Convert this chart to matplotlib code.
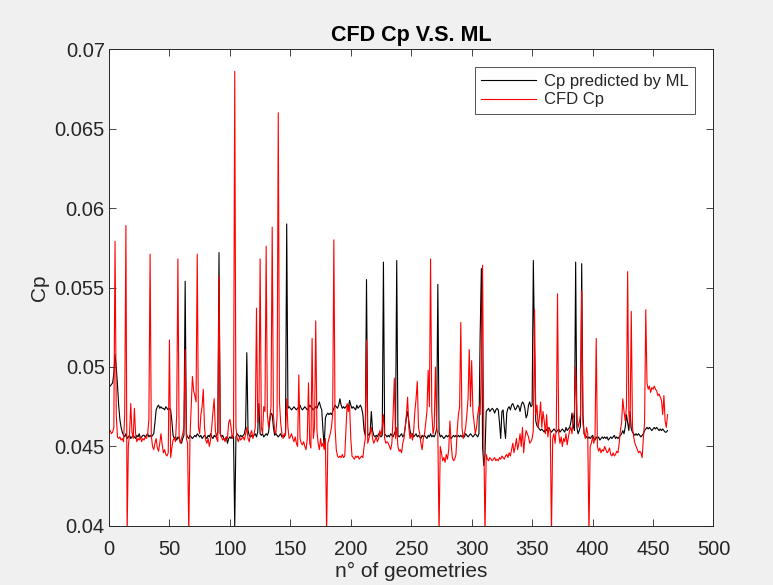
import matplotlib
matplotlib.use("Agg")
import matplotlib.pyplot as plt
from matplotlib.ticker import FuncFormatter
import numpy as np

plt.rcParams['font.family'] = ['Liberation Sans', 'DejaVu Sans']

# Cp predicted by the ML model, geometry 1..462
cp_ml = [
    .0488, .0489, .0490, .0496, .0508, .0500, .0489, .0476, .0467, .0462,
    .0459, .0457, .0456, .0458, .0455, .0456, .0457, .0455, .0456, .0457,
    .0456, .0455, .0457, .0456, .0458, .0455, .0456, .0457, .0457, .0456,
    .0457, .0458, .0456, .0457, .0456, .0457, .0458, .0465, .0473, .0475,
    .0476, .0474, .0475, .0474, .0474, .0473, .0475, .0474, .0473, .0474,
    .0473, .0466, .0457, .0455, .0456, .0454, .0456, .0455, .0453, .0452,
    .0455, .0457, .0554, .0458, .0456, .0455, .0457, .0456, .0455, .0456,
    .0457, .0456, .0458, .0457, .0456, .0457, .0455, .0456, .0457, .0456,
    .0455, .0457, .0456, .0458, .0456, .0455, .0457, .0456, .0457, .0459,
    .0572, .0458, .0456, .0457, .0455, .0454, .0456, .0452, .0455, .0456,
    .0455, .0457, .0456, .0400, .0456, .0458, .0457, .0456, .0457, .0456,
    .0457, .0458, .0462, .0509, .0460, .0457, .0456, .0457, .0456, .0457,
    .0458, .0456, .0459, .0477, .0458, .0457, .0458, .0456, .0457, .0458,
    .0457, .0459, .0466, .0471, .0470, .0462, .0457, .0458, .0457, .0456,
    .0457, .0458, .0456, .0457, .0456, .0458, .0590, .0474, .0475, .0474,
    .0473, .0474, .0475, .0474, .0473, .0474, .0475, .0476, .0474, .0473,
    .0474, .0475, .0474, .0473, .0474, .0476, .0475, .0474, .0473, .0474,
    .0475, .0474, .0476, .0478, .0475, .0473, .0460, .0450, .0468, .0470,
    .0471, .0470, .0471, .0470, .0472, .0474, .0476, .0475, .0474, .0476,
    .0480, .0476, .0474, .0475, .0474, .0475, .0476, .0474, .0479, .0476,
    .0474, .0475, .0474, .0473, .0476, .0474, .0475, .0476, .0474, .0470,
    .0460, .0457, .0555, .0458, .0457, .0459, .0472, .0460, .0457, .0456,
    .0457, .0456, .0458, .0457, .0456, .0457, .0566, .0458, .0457, .0456,
    .0457, .0456, .0458, .0457, .0456, .0458, .0460, .0567, .0457, .0456,
    .0457, .0458, .0456, .0457, .0462, .0468, .0472, .0466, .0460, .0457,
    .0458, .0456, .0457, .0458, .0456, .0457, .0456, .0455, .0457, .0456,
    .0457, .0456, .0455, .0457, .0456, .0458, .0456, .0457, .0456, .0458,
    .0461, .0552, .0459, .0456, .0457, .0456, .0455, .0456, .0457, .0456,
    .0457, .0456, .0455, .0456, .0457, .0456, .0457, .0456, .0457, .0456,
    .0457, .0456, .0457, .0456, .0458, .0457, .0456, .0457, .0458, .0457,
    .0456, .0457, .0458, .0457, .0456, .0458, .0520, .0562, .0450, .0438,
    .0445, .0472, .0473, .0474, .0472, .0473, .0474, .0473, .0471, .0473,
    .0474, .0473, .0465, .0455, .0472, .0473, .0462, .0455, .0471, .0474,
    .0475, .0473, .0476, .0477, .0475, .0473, .0474, .0476, .0475, .0472,
    .0476, .0478, .0477, .0474, .0468, .0470, .0476, .0478, .0475, .0476,
    .0567, .0510, .0466, .0463, .0462, .0461, .0460, .0461, .0460, .0459,
    .0461, .0460, .0462, .0461, .0460, .0459, .0460, .0461, .0460, .0459,
    .0460, .0461, .0459, .0460, .0461, .0460, .0459, .0462, .0460, .0461,
    .0462, .0465, .0471, .0463, .0460, .0566, .0462, .0458, .0460, .0463,
    .0565, .0470, .0458, .0457, .0456, .0455, .0456, .0455, .0456, .0457,
    .0455, .0454, .0456, .0455, .0456, .0454, .0455, .0456, .0455, .0456,
    .0455, .0456, .0454, .0455, .0456, .0455, .0456, .0457, .0455, .0456,
    .0455, .0456, .0457, .0458, .0460, .0458, .0462, .0470, .0465, .0460,
    .0472, .0461, .0459, .0458, .0457, .0458, .0457, .0458, .0457, .0456,
    .0457, .0458, .0460, .0461, .0462, .0461, .0462, .0461, .0460, .0461,
    .0462, .0461, .0462, .0461, .0460, .0461, .0460, .0461, .0460, .0459,
    .0459, .0460,
]

# Cp from CFD, geometry 1..462
cp_cfd = [
    .0460, .0458, .0459, .0462, .0579, .0470, .0456, .0455, .0456, .0454,
    .0455, .0453, .0470, .0589, .0395, .0450, .0458, .0477, .0459, .0455,
    .0474, .0458, .0453, .0455, .0454, .0456, .0453, .0455, .0454, .0456,
    .0455, .0458, .0467, .0571, .0457, .0450, .0448, .0452, .0455, .0449,
    .0447, .0452, .0458, .0451, .0446, .0448, .0445, .0444, .0446, .0517,
    .0443, .0449, .0454, .0455, .0453, .0470, .0568, .0456, .0452, .0455,
    .0458, .0462, .0511, .0455, .0452, .0395, .0456, .0475, .0494, .0485,
    .0482, .0478, .0571, .0462, .0458, .0470, .0475, .0486, .0462, .0454,
    .0452, .0455, .0450, .0454, .0462, .0472, .0480, .0460, .0455, .0453,
    .0557, .0458, .0456, .0454, .0455, .0453, .0456, .0455, .0465, .0467,
    .0462, .0455, .0458, .0686, .0462, .0455, .0453, .0456, .0454, .0455,
    .0456, .0454, .0458, .0462, .0455, .0453, .0458, .0460, .0455, .0458,
    .0462, .0537, .0465, .0470, .0568, .0462, .0458, .0475, .0472, .0576,
    .0470, .0462, .0468, .0475, .0588, .0470, .0460, .0458, .0468, .0660,
    .0478, .0465, .0458, .0455, .0458, .0457, .0480, .0462, .0455, .0456,
    .0458, .0455, .0453, .0456, .0452, .0450, .0495, .0455, .0452, .0451,
    .0453, .0450, .0448, .0455, .0490, .0452, .0449, .0518, .0455, .0462,
    .0529, .0460, .0452, .0448, .0455, .0450, .0452, .0448, .0455, .0395,
    .0452, .0455, .0458, .0462, .0470, .0580, .0462, .0448, .0444, .0443,
    .0444, .0443, .0445, .0443, .0444, .0460, .0477, .0472, .0476, .0455,
    .0444, .0443, .0442, .0444, .0443, .0444, .0442, .0443, .0444, .0443,
    .0450, .0455, .0517, .0452, .0455, .0458, .0462, .0455, .0452, .0454,
    .0456, .0453, .0455, .0460, .0457, .0462, .0470, .0455, .0452, .0453,
    .0452, .0450, .0448, .0452, .0470, .0493, .0455, .0462, .0450, .0447,
    .0448, .0446, .0452, .0455, .0462, .0470, .0481, .0462, .0455, .0458,
    .0454, .0460, .0472, .0480, .0491, .0462, .0458, .0452, .0448, .0455,
    .0458, .0465, .0472, .0498, .0475, .0568, .0472, .0458, .0462, .0500,
    .0462, .0458, .0395, .0450, .0446, .0441, .0443, .0440, .0445, .0442,
    .0448, .0466, .0452, .0443, .0441, .0442, .0445, .0460, .0470, .0475,
    .0528, .0462, .0455, .0458, .0462, .0470, .0480, .0511, .0475, .0504,
    .0472, .0465, .0458, .0462, .0470, .0475, .0470, .0500, .0564, .0458,
    .0395, .0445, .0442, .0441, .0443, .0442, .0441, .0442, .0443, .0441,
    .0442, .0441, .0443, .0442, .0444, .0443, .0442, .0444, .0445, .0443,
    .0446, .0444, .0448, .0452, .0446, .0450, .0455, .0448, .0452, .0458,
    .0450, .0462, .0446, .0455, .0460, .0458, .0456, .0452, .0453, .0455,
    .0460, .0536, .0470, .0476, .0462, .0468, .0478, .0462, .0472, .0466,
    .0458, .0470, .0456, .0462, .0460, .0395, .0455, .0458, .0452, .0462,
    .0546, .0458, .0452, .0456, .0450, .0455, .0453, .0458, .0451, .0456,
    .0460, .0462, .0458, .0468, .0472, .0500, .0470, .0462, .0465, .0470,
    .0548, .0465, .0458, .0455, .0462, .0458, .0395, .0450, .0452, .0456,
    .0452, .0455, .0518, .0450, .0447, .0449, .0446, .0448, .0447, .0450,
    .0448, .0446, .0447, .0449, .0445, .0444, .0446, .0444, .0445, .0447,
    .0446, .0452, .0460, .0465, .0480, .0472, .0466, .0475, .0560, .0470,
    .0462, .0535, .0462, .0456, .0452, .0450, .0448, .0446, .0447, .0446,
    .0443, .0455, .0465, .0536, .0490, .0486, .0488, .0484, .0487, .0486,
    .0488, .0486, .0485, .0482, .0483, .0481, .0479, .0470, .0482, .0466,
    .0462, .0470,
]

x_ml = np.arange(1, len(cp_ml) + 1)
x_cfd = np.arange(1, len(cp_cfd) + 1)

axis_col = '#262626'

fig = plt.figure(figsize=(7.73, 5.85), dpi=100, facecolor='#f0f0f0')
ax = fig.add_axes([0.141, 0.101, 0.782, 0.815])
ax.set_facecolor('white')

ax.plot(x_ml, cp_ml, color='black', linewidth=0.8, label='Cp predicted by ML')
ax.plot(x_cfd, cp_cfd, color='red', linewidth=0.8, label='CFD Cp')

ax.set_xlim(0, 500)
ax.set_ylim(0.04, 0.07)
ax.set_xticks(np.arange(0, 501, 50))
ax.set_yticks(np.arange(0.04, 0.0701, 0.005))
ax.yaxis.set_major_formatter(FuncFormatter(lambda v, p: '%g' % round(v, 4)))

ax.tick_params(direction='in', length=5, width=0.6, color=axis_col,
               labelcolor=axis_col, labelsize=14.5, top=True, right=True)
ax.tick_params(axis='x', pad=10)
ax.tick_params(axis='y', pad=3)
for s in ax.spines.values():
    s.set_color(axis_col)
    s.set_linewidth(0.7)

ax.set_title('CFD Cp V.S. ML', fontsize=15.5, fontweight='bold', pad=6)
ax.set_xlabel('n° of geometries', fontsize=15, color=axis_col, labelpad=2)
ax.set_ylabel('Cp', fontsize=15, color=axis_col, labelpad=4)

leg = ax.legend(loc='upper right', fontsize=12, frameon=True, fancybox=False,
                handlelength=3.3, borderpad=0.4, labelspacing=0.2,
                handletextpad=0.45, borderaxespad=1.1)
leg.get_frame().set_edgecolor(axis_col)
leg.get_frame().set_linewidth(0.7)
for t in leg.get_texts():
    t.set_color(axis_col)

fig.savefig('out.png', dpi=100, facecolor=fig.get_facecolor())
